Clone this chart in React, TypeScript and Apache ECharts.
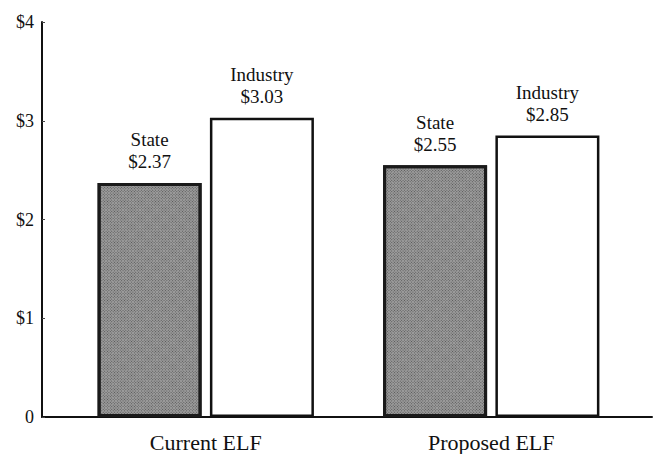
import React, { useEffect, useRef } from "react";
import * as echarts from "echarts";

const categories = ["Current ELF", "Proposed ELF"];
const stateValues = [2.37, 2.55];
const industryValues = [3.03, 2.85];
const seriesNames = ["State", "Industry"];
const yTicks = [0, 1, 2, 3, 4];

const FONT = "'Liberation Serif', 'DejaVu Serif', serif";

export default function App() {
  const ref = useRef<HTMLDivElement>(null);
  useEffect(() => {
    if (!ref.current) return;
    const chart = echarts.init(ref.current, null, { renderer: "svg" });
    const labelFmt = (name: string) => (p: any) => `${name}\n$${p.value.toFixed(2)}`;
    chart.setOption({
      animation: false,
      backgroundColor: "#ffffff",
      grid: [
        { left: 63, right: 26, top: 22, bottom: 37 },
        { left: 42, right: 8, top: 22, bottom: 37 },
      ],
      xAxis: [
        {
          type: "category",
          gridIndex: 0,
          data: categories,
          axisLine: { show: false },
          axisTick: { show: false },
          axisLabel: { fontFamily: FONT, fontSize: 22, color: "#111", margin: 14 },
        },
        {
          type: "value",
          gridIndex: 1,
          min: 0,
          max: 1,
          axisLine: { show: true, lineStyle: { color: "#111", width: 2 } },
          axisTick: { show: false },
          axisLabel: { show: false },
          splitLine: { show: false },
        },
      ],
      yAxis: [
        {
          type: "value",
          gridIndex: 0,
          min: 0,
          max: 4,
          interval: 1,
          show: false,
          splitLine: { show: false },
        },
        {
          type: "value",
          gridIndex: 1,
          min: 0,
          max: 4,
          interval: 1,
          axisLine: { show: true, lineStyle: { color: "#111", width: 2 } },
          axisTick: { show: true, inside: true, length: 3, lineStyle: { color: "#444", width: 1 } },
          axisLabel: {
            fontFamily: FONT,
            fontSize: 18,
            color: "#111",
            margin: 8,
            formatter: (v: number) => (yTicks.includes(v) && v !== 0 ? `$${v}` : "0"),
          },
          splitLine: { show: false },
        },
      ],
      series: [
        {
          name: seriesNames[0],
          type: "bar",
          xAxisIndex: 0,
          yAxisIndex: 0,
          data: stateValues,
          barWidth: 104,
          barGap: "8%",
          itemStyle: {
            color: "#9c9c9c",
            borderColor: "#1a1a1a",
            borderWidth: 3,
            decal: {
              symbol: "rect",
              symbolSize: 1,
              color: "rgba(40,40,40,0.6)",
              dashArrayX: [1, 1],
              dashArrayY: [1, 1],
              rotation: Math.PI / 4,
            },
          },
          label: {
            show: true,
            position: "top",
            distance: 10,
            fontFamily: FONT,
            fontSize: 19,
            lineHeight: 22,
            color: "#111",
            formatter: labelFmt(seriesNames[0]),
          },
        },
        {
          name: seriesNames[1],
          type: "bar",
          xAxisIndex: 0,
          yAxisIndex: 0,
          data: industryValues,
          barWidth: 104,
          itemStyle: { color: "#ffffff", borderColor: "#111", borderWidth: 2.5 },
          label: {
            show: true,
            position: "top",
            distance: 10,
            fontFamily: FONT,
            fontSize: 19,
            lineHeight: 22,
            color: "#111",
            formatter: labelFmt(seriesNames[1]),
          },
        },
        {
          type: "line",
          xAxisIndex: 1,
          yAxisIndex: 1,
          data: [],
          silent: true,
        },
      ],
    });
    return () => chart.dispose();
  }, []);
  return <div ref={ref} style={{ width: 660, height: 454, position: "absolute", left: 0, top: 0 }} />;
}
